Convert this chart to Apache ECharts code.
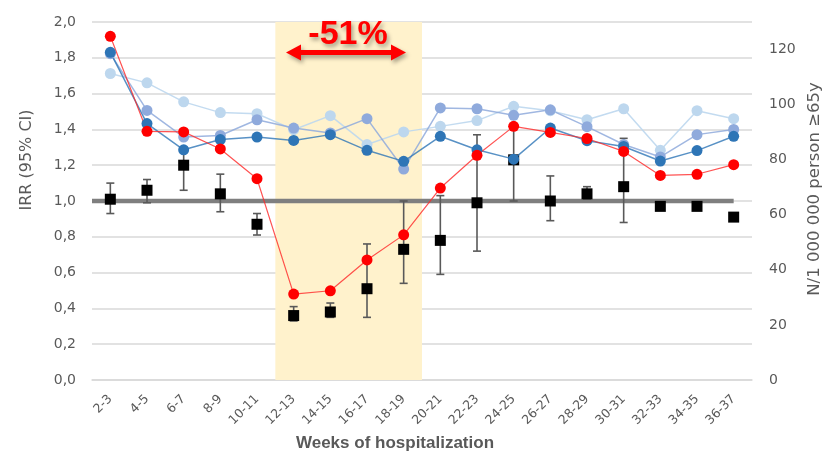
<!DOCTYPE html>
<html>
<head>
<meta charset="utf-8">
<script src="https://cdn.jsdelivr.net/npm/echarts@6/dist/echarts.min.js"></script>
<style>
html,body{margin:0;padding:0;background:#fff;}
#c{width:826px;height:455px;}
</style>
</head>
<body>
<div id="c"></div>
<script>
// ---- data ----
const categories = ['2-3','4-5','6-7','8-9','10-11','12-13','14-15','16-17','18-19','20-21','22-23','24-25','26-27','28-29','30-31','32-33','34-35','36-37'];
const leftTicks = [0,0.2,0.4,0.6,0.8,1.0,1.2,1.4,1.6,1.8,2.0];
const rightTicks = [0,20,40,60,80,100,120];
// IRR (left axis) with 95% CI
const irr     = [1.01,1.06,1.20,1.04,0.87,0.36,0.38,0.51,0.73,0.78,0.99,1.23,1.00,1.04,1.08,0.97,0.97,0.91];
const irrLow  = [0.93,0.99,1.06,0.94,0.81,0.33,0.35,0.35,0.54,0.59,0.72,1.00,0.89,1.01,0.88,null,null,null];
const irrHigh = [1.10,1.12,1.30,1.15,0.93,0.41,0.43,0.76,1.00,1.03,1.37,1.42,1.14,1.08,1.35,null,null,null];
// N / 1 000 000 persons >=65y (right axis)
const redSeries   = [124.8,90.3,90.1,83.9,73.1,31.2,32.4,43.6,52.7,69.7,81.6,92.1,89.9,87.7,83.0,74.3,74.7,78.2];
const darkBlue    = [119.0,93.1,83.6,87.3,88.2,87.0,89.1,83.4,79.4,88.5,83.6,80.2,91.5,86.9,84.8,79.5,83.3,88.5];
const midBlue     = [118.5,97.9,88.2,88.8,94.5,91.5,89.7,94.9,76.6,98.8,98.5,96.1,98.1,92.0,85.5,81.0,89.1,91.0];
const lightBlue   = [111.3,107.9,101.0,97.1,96.7,90.9,96.0,85.5,90.1,92.1,94.2,99.4,97.8,94.5,98.5,83.4,97.8,94.9];
const refValue = 1.0;
const shadeFrom = '12-13', shadeTo = '18-19';
const annotationText = '-51%';

// ---- build ----
const TXT = '#595959';
const FONT = 'DejaVu Sans';
const chart = echarts.init(document.getElementById('c'), null, {renderer:'canvas'});

const errData = [];
irr.forEach((v,i)=>{ if(irrLow[i]!=null && irrHigh[i]!=null) errData.push([i, irrLow[i], irrHigh[i]]); });

function lineSeries(name, data, color, lineColor, width){
  return {
    name, type:'line', yAxisIndex:1, data,
    symbol:'circle', symbolSize:11, showSymbol:true,
    itemStyle:{color:color, opacity:1},
    lineStyle:{color:lineColor, width:width},
    emphasis:{disabled:true}, animation:false, z:4
  };
}

const option = {
  animation:false,
  grid:{left:92, right:74, top:22, bottom:75, containLabel:false},
  xAxis:{
    type:'category', data:categories, boundaryGap:true,
    axisLine:{lineStyle:{color:'#d9d9d9', width:1.5}},
    axisTick:{show:false},
    axisLabel:{rotate:45, color:TXT, fontFamily:FONT, fontSize:12.5, margin:17, interval:0}
  },
  yAxis:[
    {type:'value', min:leftTicks[0], max:leftTicks[leftTicks.length-1], interval:0.2,
     axisLine:{show:false}, axisTick:{show:false},
     splitLine:{lineStyle:{color:'#d9d9d9', width:1.5}},
     axisLabel:{color:TXT, fontFamily:FONT, fontSize:14, margin:16,
       formatter:v=>v.toFixed(1).replace('.',',')}},
    {type:'value', min:rightTicks[0], max:130, interval:20,
     axisLine:{show:false}, axisTick:{show:false}, splitLine:{show:false},
     axisLabel:{color:TXT, fontFamily:FONT, fontSize:14, margin:17, showMaxLabel:false,
       formatter:v=> rightTicks.indexOf(v)>=0 ? String(v) : ''}}
  ],
  series:[
    { // shaded period
      type:'custom', name:'shade', data:[[categories.indexOf(shadeFrom), categories.indexOf(shadeTo)]],
      renderItem:(params, api)=>{
        const band = api.size([1,0])[0];
        const p0 = api.coord([api.value(0), 2.0]);
        const p1 = api.coord([api.value(1), 0]);
        return {type:'rect', shape:{x:p0[0]-band/2, y:p0[1], width:p1[0]-p0[0]+band, height:p1[1]-p0[1]},
                style:{fill:'#fff2cc'}};
      }, z:1, silent:true
    },
    { // reference line IRR = 1
      type:'custom', name:'ref', data:[[0, categories.length-1, refValue]],
      renderItem:(params, api)=>{
        const band = api.size([1,0])[0];
        const a = api.coord([api.value(0), api.value(2)]);
        const b = api.coord([api.value(1), api.value(2)]);
        return {type:'line', shape:{x1:a[0]-band/2, y1:a[1], x2:b[0], y2:b[1]},
                style:{stroke:'#7f7f7f', lineWidth:4.5}};
      }, z:2, silent:true
    },
    { // error bars
      type:'custom', name:'ci', data:errData,
      renderItem:(params, api)=>{
        const lo = api.coord([api.value(0), api.value(1)]);
        const hi = api.coord([api.value(0), api.value(2)]);
        const w = 4;
        const st = {stroke:'#595959', lineWidth:1.6};
        return {type:'group', children:[
          {type:'line', shape:{x1:lo[0], y1:lo[1], x2:hi[0], y2:hi[1]}, style:st},
          {type:'line', shape:{x1:lo[0]-w, y1:lo[1], x2:lo[0]+w, y2:lo[1]}, style:st},
          {type:'line', shape:{x1:hi[0]-w, y1:hi[1], x2:hi[0]+w, y2:hi[1]}, style:st}
        ]};
      }, z:3, silent:true
    },
    { // IRR squares
      type:'scatter', name:'IRR', data:irr, yAxisIndex:0,
      symbol:'rect', symbolSize:11, itemStyle:{color:'#000', opacity:1}, z:3
    },
    lineSeries('light', lightBlue, '#bdd7ee', 'rgba(189,215,238,0.9)', 1.5),
    lineSeries('mid', midBlue, '#8faadc', 'rgba(143,170,220,0.85)', 1.5),
    lineSeries('dark', darkBlue, '#2e75b6', 'rgba(46,117,182,0.8)', 1.5),
    lineSeries('red', redSeries, '#ff0000', 'rgba(255,40,40,0.8)', 1.2)
  ],
  graphic:[
    {type:'text', x:27, y:160, rotation:Math.PI/2,
     style:{text:'IRR (95% CI)', fill:TXT, font:'16px "DejaVu Sans"', textAlign:'center', textVerticalAlign:'middle'}},
    {type:'text', x:815, y:189, rotation:Math.PI/2,
     style:{text:'N/1 000 000 person ≥65y', fill:TXT, font:'16.5px "DejaVu Sans"', textAlign:'center', textVerticalAlign:'middle'}},
    {type:'text', x:395, y:443,
     style:{text:'Weeks of hospitalization', fill:TXT, font:'bold 17px "Liberation Sans"', textAlign:'center', textVerticalAlign:'middle'}},
    {type:'polygon', z:10,
     shape:{points:[[286,52.5],[301,44.5],[301,50],[391,50],[391,44.5],[406,52.5],[391,60.5],[391,55],[301,55],[301,60.5]]},
     style:{fill:'#ff0000', shadowBlur:4, shadowOffsetX:2, shadowOffsetY:3, shadowColor:'rgba(0,0,0,0.35)'}},
    {type:'text', x:348, y:35, z:10,
     style:{text:annotationText, fill:'#ff0000', font:'bold 34px "Liberation Sans"', textAlign:'center', textVerticalAlign:'middle',
       textShadowBlur:4, textShadowOffsetX:2, textShadowOffsetY:3, textShadowColor:'rgba(0,0,0,0.35)'}}
  ]
};
chart.setOption(option);
</script>
</body>
</html>
